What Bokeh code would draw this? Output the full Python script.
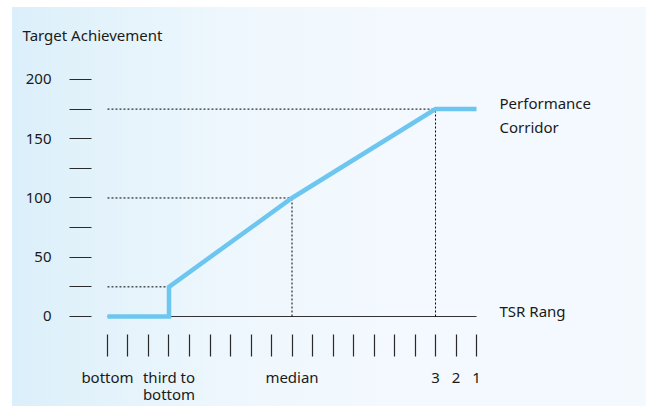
from bokeh.plotting import figure
from bokeh.models import FixedTicker
from bokeh.core.properties import value
from bokeh.embed import file_html
from bokeh.resources import INLINE

# ---- data ----
rank_ticks = list(range(19))
rank_labels = {0: "bottom", 3: "third to\nbottom", 9: "median", 16: "3", 17: "2", 18: "1"}
achievement_ticks = [0, 25, 50, 75, 100, 125, 150, 175, 200]
achievement_labels = {0: "0", 50: "50", 100: "100", 150: "150", 200: "200"}
curve_rank = [0, 3, 3, 9, 16, 18]
curve_value = [0, 0, 25, 100, 175, 175]
guide_rank = [3, 9, 16]
guide_value = [25, 100, 175]
vertical_guides = [False, True, True]

FONT = "Noto Sans"
TXT = "#1a1a1a"
BLUE = "#6cc6f0"

p = figure(width=646, height=415, output_backend="svg", toolbar_location=None,
           x_range=(-0.78, 26.29), y_range=(-15.2, 217.7),
           min_border_left=91, min_border_right=0, min_border_top=58, min_border_bottom=81)
p.styles = {
    "background-color": "#ffffff",
    "background-image": "linear-gradient(to right, #dbeffa 0px, #e4f3fb 100px, "
                        "#eef7fd 220px, #f3f9fe 370px, #f4f9fe 100%)",
    "background-position": "12px 7px",
    "background-size": "634px 399px",
    "background-repeat": "no-repeat",
}
p.border_fill_color = None
p.background_fill_color = None
p.outline_line_color = None
p.grid.visible = False

# title
p.title.text = "Target Achievement"
p.title.align = "left"
p.title.offset = -69
p.title.standoff = 28
p.title.text_font = FONT
p.title.text_font_size = "15px"
p.title.text_font_style = "normal"
p.title.text_color = TXT

# y axis
ya = p.yaxis[0]
ya.ticker = FixedTicker(ticks=achievement_ticks)
ya.major_label_overrides = {t: achievement_labels.get(t, "") for t in achievement_ticks}
ya.axis_line_color = None
ya.major_tick_in = 0
ya.major_tick_out = 22
ya.major_tick_line_color = "#2a2a2a"
ya.major_tick_line_width = 1.2
ya.minor_tick_line_color = None
ya.major_label_standoff = 18
ya.major_label_text_font = FONT
ya.major_label_text_font_size = "15px"
ya.major_label_text_color = TXT

# x axis
xa = p.xaxis[0]
xa.ticker = FixedTicker(ticks=rank_ticks)
xa.major_label_overrides = {t: rank_labels.get(t, "") for t in rank_ticks}
xa.axis_line_color = None
xa.major_tick_in = 0
xa.major_tick_out = 22
xa.major_tick_line_color = "#2a2a2a"
xa.major_tick_line_width = 1.2
xa.minor_tick_line_color = None
xa.major_label_standoff = 10
xa.major_label_text_font = FONT
xa.major_label_text_font_size = "15px"
xa.major_label_text_color = TXT
xa.major_label_text_line_height = 0.88

# baseline
p.line([rank_ticks[0], rank_ticks[-1]], [0, 0], line_color="#333333", line_width=1.2)

# dotted guides
p.segment(x0=[rank_ticks[0]] * len(guide_rank), y0=guide_value, x1=guide_rank, y1=guide_value,
          line_color="#000000", line_width=1, line_dash="2 2")
vx = [r for r, v in zip(guide_rank, vertical_guides) if v]
vy = [g for g, v in zip(guide_value, vertical_guides) if v]
p.segment(x0=vx, y0=[0] * len(vx), x1=vx, y1=vy,
          line_color="#000000", line_width=1, line_dash="2 2")

# curve
p.line(curve_rank, curve_value, line_color=BLUE, line_width=4.5, line_join="miter")

# side texts
p.text(x=[rank_ticks[-1] + 1.12], y=[curve_value[-1]], text=["Performance\nCorridor"],
       text_font=value(FONT), text_font_size="15px", text_color=TXT,
       text_baseline="middle", text_align="left", y_offset=6, text_line_height=1.2)
p.text(x=[rank_ticks[-1] + 1.12], y=[0], text=["TSR Rang"],
       text_font=value(FONT), text_font_size="15px", text_color=TXT,
       text_baseline="middle", text_align="left", y_offset=-5)

open("out.html", "w").write(file_html(p, INLINE))
